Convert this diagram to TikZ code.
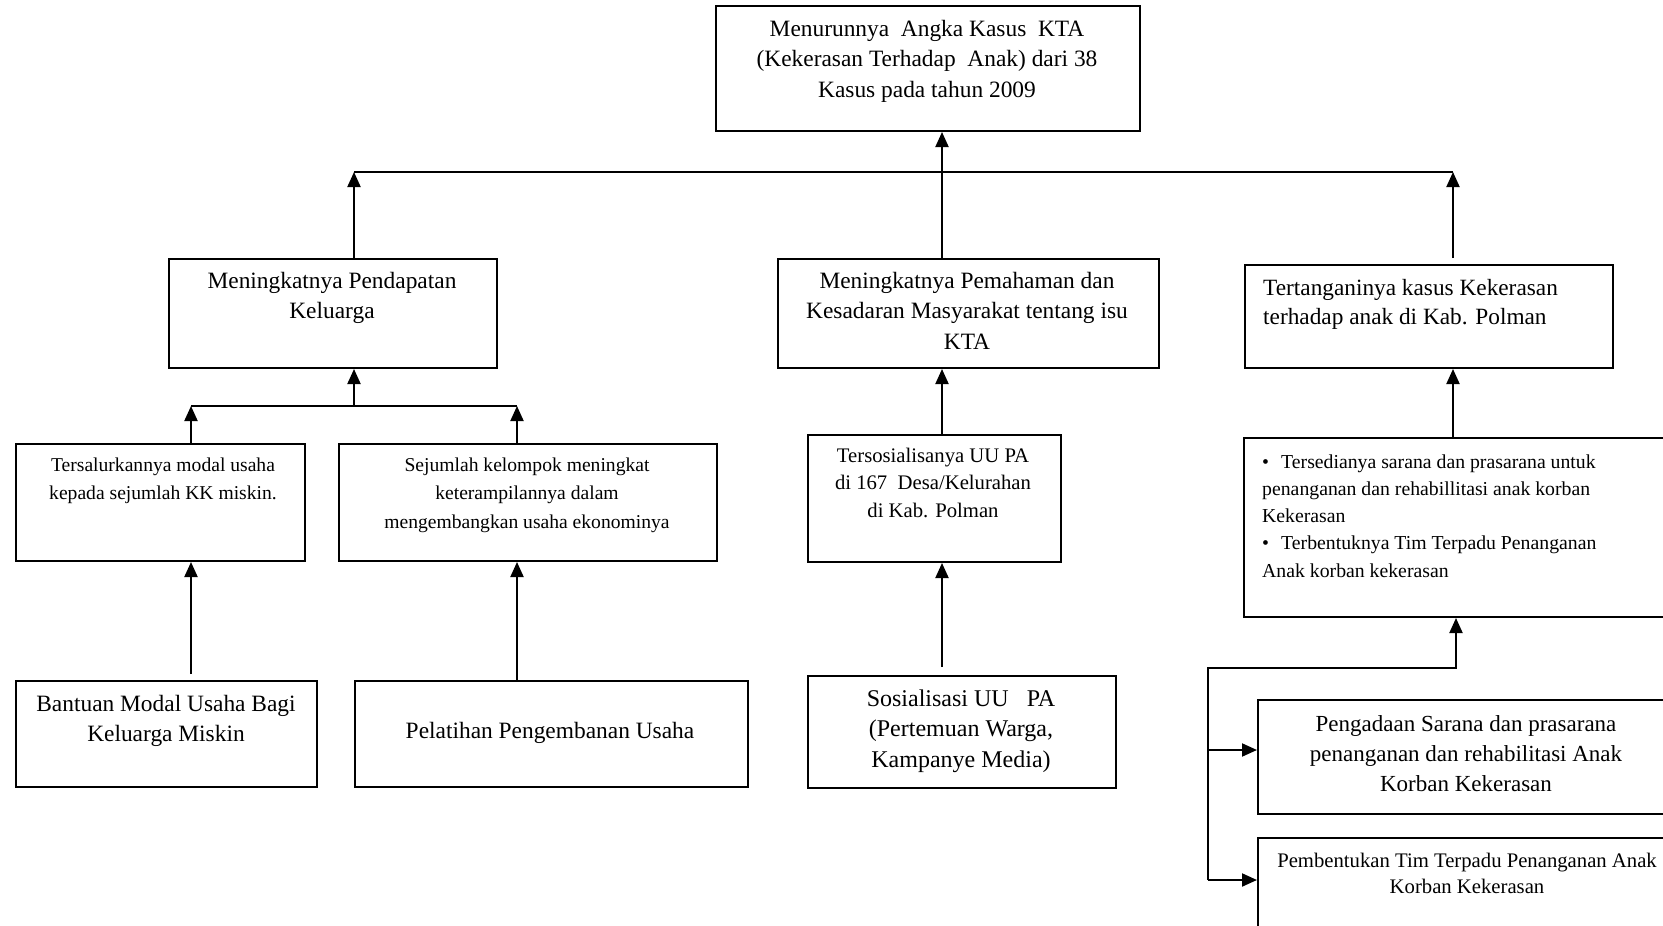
\documentclass[tikz,border=0pt]{standalone}
\usepackage{fontspec}
\setmainfont{Liberation Serif}
\usetikzlibrary{arrows.meta,calc}
\tikzset{
  box/.style={draw, line width=2pt, inner sep=0pt, anchor=north west, rectangle},
  conn/.style={line width=2pt},
  arr/.style={line width=2pt, -{Triangle[length=15pt,width=13pt]}},
  txt/.style={inner sep=0pt, anchor=base, align=center},
  big/.style={font=\fontsize{23.4}{30.7}\selectfont},
  small/.style={font=\fontsize{19.6}{28.6}\selectfont},
}
\begin{document}
\begin{tikzpicture}[x=1pt,y=-1pt]
\useasboundingbox (0,0) rectangle (1663,926);
\clip (0,0) rectangle (1663,926);
\fill[white] (0,0) rectangle (1663,926);
% boxes
\node[box, minimum width=424pt, minimum height=125pt] (T) at (715,5) {};
\node[box, minimum width=328pt, minimum height=109pt] (A) at (168,258) {};
\node[box, minimum width=381pt, minimum height=109pt] (B) at (777,258) {};
\node[box, minimum width=368pt, minimum height=103pt] (C) at (1244,264) {};
\node[box, minimum width=289pt, minimum height=117pt] (D) at (15,443) {};
\node[box, minimum width=378pt, minimum height=117pt] (E) at (338,443) {};
\node[box, minimum width=253pt, minimum height=127pt] (F) at (807,434) {};
\node[box, minimum width=450pt, minimum height=179pt] (G) at (1243,437) {};
\node[box, minimum width=301pt, minimum height=106pt] (H) at (15,680) {};
\node[box, minimum width=393pt, minimum height=106pt] (I) at (354,680) {};
\node[box, minimum width=308pt, minimum height=112pt] (J) at (807,675) {};
\node[box, minimum width=420pt, minimum height=114pt] (K) at (1257,699) {};
\node[box, minimum width=420pt, minimum height=150pt] (L) at (1257,837) {};
% texts (anchor base = baseline of last line)
\node[txt, big] (Tt) at (927,97.4) {Menurunnya~ Angka Kasus~ KTA\\(Kekerasan Terhadap~ Anak) dari 38\\Kasus pada tahun 2009};
\node[txt, big] (At) at (332,318.7) {Meningkatnya Pendapatan\\Keluarga};
\node[txt, big] (Bt) at (967,349.4) {Meningkatnya Pemahaman dan\\Kesadaran Masyarakat tentang isu\\KTA};
\node[txt, anchor=base west, align=left, font=\fontsize{23.3}{29.7}\selectfont] (Ct) at (1263,324.7) {Tertanganinya kasus Kekerasan\\terhadap anak di Kab. Polman};
\node[txt, small] (Dt) at (163,499.6) {Tersalurkannya modal usaha\\kepada sejumlah KK miskin.};
\node[txt, small] (Et) at (527,528.2) {Sejumlah kelompok meningkat\\keterampilannya dalam\\mengembangkan usaha ekonominya};
\node[txt, font=\fontsize{20.7}{27.6}\selectfont] (Ft) at (933,517.2) {Tersosialisanya UU PA\\di 167~ Desa/Kelurahan\\di Kab. Polman};
\node[inner sep=0pt, anchor=base west] (Gt) at (1262,468) {\parbox[t]{400pt}{\fontsize{19.75}{27.3}\selectfont\raggedright
\hangindent=19pt\hangafter=1\noindent\makebox[19pt][l]{\textbullet}Tersedianya sarana dan prasarana untuk\\penanganan dan rehabillitasi anak korban\\Kekerasan\par
\hangindent=19pt\hangafter=1\noindent\makebox[19pt][l]{\textbullet}Terbentuknya Tim Terpadu Penanganan\\Anak korban kekerasan}};
\node[txt, big] (Ht) at (166,741.7) {Bantuan Modal Usaha Bagi\\Keluarga Miskin};
\node[txt, big] (It) at (550,738) {Pelatihan Pengembanan Usaha};
\node[txt, font=\fontsize{24}{30.5}\selectfont] (Jt) at (961,767) {Sosialisasi UU~~ PA\\(Pertemuan Warga,\\Kampanye Media)};
\node[txt, font=\fontsize{23}{30.2}\selectfont] (Kt) at (1466,791.4) {Pengadaan Sarana dan prasarana\\penanganan dan rehabilitasi Anak\\Korban Kekerasan};
\node[txt, font=\fontsize{20.7}{26.5}\selectfont] (Lt) at (1467,893.5) {Pembentukan Tim Terpadu Penanganan Anak\\Korban Kekerasan};
% connector coordinates
\coordinate (barL) at (354,172);
\coordinate (barR) at (1453,172);
\coordinate (xm) at (942,172);
\coordinate (fL) at (191,406);
\coordinate (fR) at (517,406);
\coordinate (fM) at (354,406);
\coordinate (bx) at (1208,668);
\coordinate (gx) at (1456,668);
\coordinate (kA) at (1208,750);
\coordinate (lA) at (1208,880);
\coordinate (cTop) at (barR |- C.north);
\coordinate (hTop) at (fL |- H.north);
\coordinate (jTop) at (xm |- J.north);
% connectors
\draw[conn] (barL) -- (barR);
\draw[arr] (barL |- A.north) -- (barL);
\draw[arr] ([yshift=6pt]cTop) -- (barR);
\draw[arr] (xm |- B.north) -- (xm |- T.south);
\draw[conn] (fL) -- (fR);
\draw[arr] (fM) -- (fM |- A.south);
\draw[arr] (fL |- D.north) -- (fL);
\draw[arr] (fR |- E.north) -- (fR);
\draw[arr] ([yshift=6pt]hTop) -- (fL |- D.south);
\draw[arr] (fR |- I.north) -- (fR |- E.south);
\draw[arr] (xm |- F.north) -- (xm |- B.south);
\draw[arr] ([yshift=8pt]jTop) -- (xm |- F.south);
\draw[arr] (barR |- G.north) -- (barR |- C.south);
\draw[arr] (lA) -- (bx) -- (gx) -- (gx |- G.south);
\draw[arr] (kA) -- (kA -| K.west);
\draw[arr] (lA) -- (lA -| L.west);
\end{tikzpicture}
\end{document}
